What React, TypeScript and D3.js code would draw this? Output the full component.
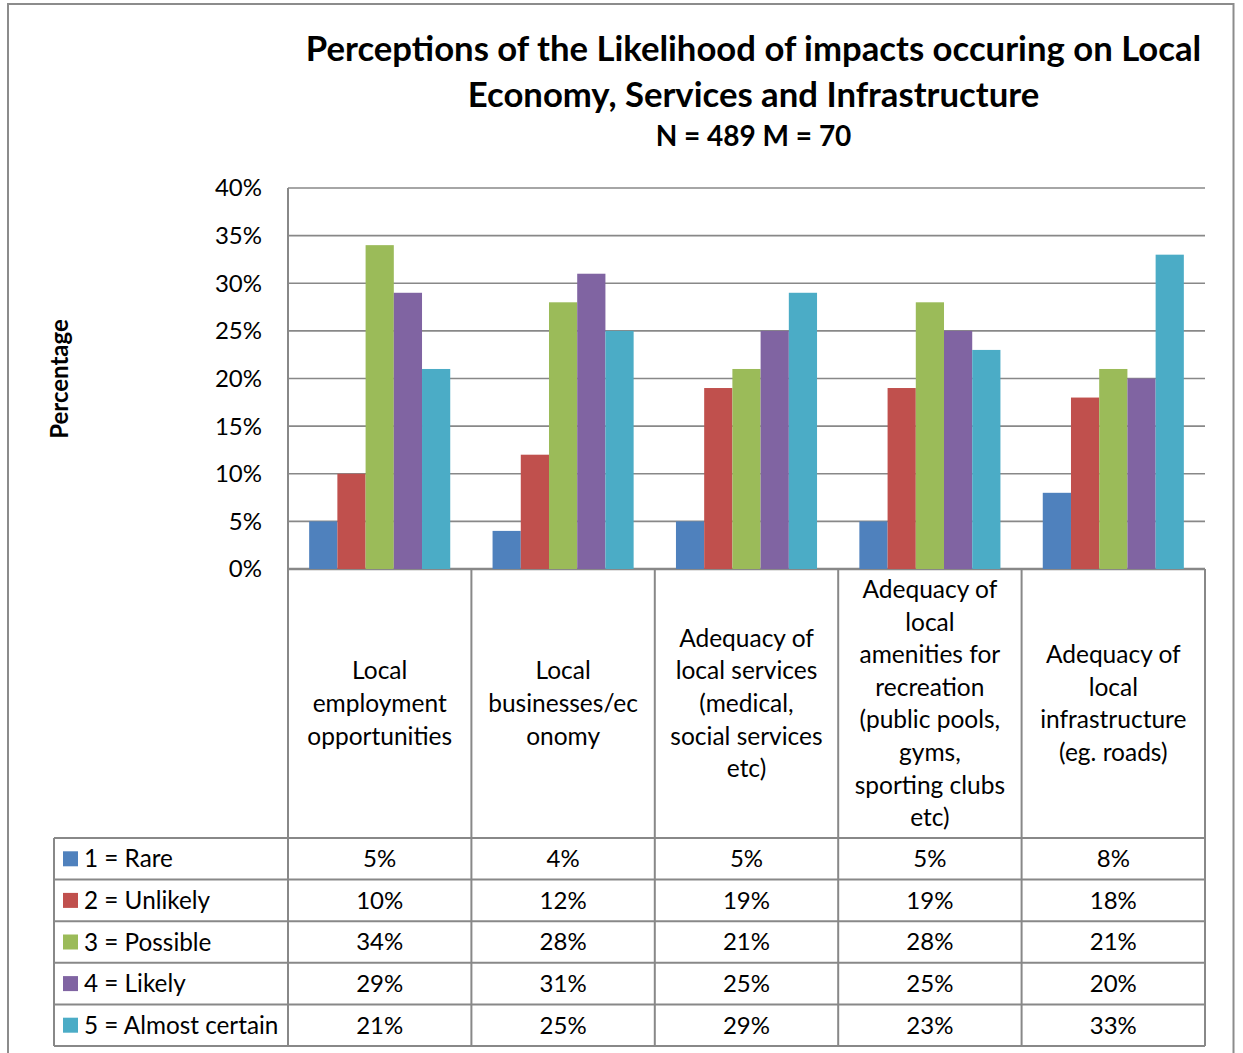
import React from "react";
import * as d3 from "d3";

const categories: string[][] = [
  ["Local", "employment", "opportunities"],
  ["Local", "businesses/ec", "onomy"],
  ["Adequacy of", "local services", "(medical,", "social services", "etc)"],
  ["Adequacy of", "local", "amenities for", "recreation", "(public pools,", "gyms,", "sporting clubs", "etc)"],
  ["Adequacy of", "local", "infrastructure", "(eg. roads)"],
];
const seriesNames = ["1 = Rare", "2 = Unlikely", "3 = Possible", "4 = Likely", "5 = Almost certain"];
const rare = [5, 4, 5, 5, 8];
const unlikely = [10, 12, 19, 19, 18];
const possible = [34, 28, 21, 28, 21];
const likely = [29, 31, 25, 25, 20];
const almostCertain = [21, 25, 29, 23, 33];
const seriesValues = [rare, unlikely, possible, likely, almostCertain];
const colors = ["#4F81BD", "#C0504D", "#9BBB59", "#8064A2", "#4BACC6"];
const yTicks = [0, 5, 10, 15, 20, 25, 30, 35, 40];

const FONT = "Lato, 'Open Sans', sans-serif";

export default function App() {
  const W = 1243, H = 1053;
  const left = 288, right = 1205, top = 188, bottom = 569;
  const tableLeft = 54;
  const headerBottom = 838;
  const rowH = 41.6;
  const x0 = d3.scaleBand<number>().domain(d3.range(categories.length)).range([left, right]).paddingInner(0).paddingOuter(0);
  const x1 = d3.scaleBand<number>().domain(d3.range(seriesNames.length)).range([0, x0.bandwidth()]).paddingInner(0).paddingOuter(0.75);
  const y = d3.scaleLinear().domain([0, 40]).range([bottom, top]);
  const grid = "#888888";
  const lineH = 32.6;
  const headerMid = (bottom + headerBottom) / 2;

  return (
    <svg width={W} height={H} style={{ position: "absolute", left: 0, top: 0, background: "#fff" }} fontFamily={FONT}>
      <rect x={0} y={0} width={W} height={H} fill="#fff" />
      <rect x={8} y={4} width={1225.5} height={1100} fill="none" stroke="#8c8c8c" strokeWidth={2} />
      <text x={753.5} y={61} textAnchor="middle" fontSize={34.7} fontWeight="bold" fill="#000">
        Perceptions of the Likelihood of impacts occuring on Local
      </text>
      <text x={753.5} y={107} textAnchor="middle" fontSize={34.7} fontWeight="bold" fill="#000">
        Economy, Services and Infrastructure
      </text>
      <text x={753.5} y={146} textAnchor="middle" fontSize={28} fontWeight="bold" fill="#000">
        N = 489 M = 70
      </text>
      <text transform={`translate(68,379) rotate(-90)`} textAnchor="middle" fontSize={24} fontWeight="bold" fill="#000">
        Percentage
      </text>
      {yTicks.map((t) => (
        <g key={t}>
          <line x1={left} x2={right} y1={y(t)} y2={y(t)} stroke={grid} strokeWidth={t === 0 ? 2.5 : 1.6} />
          <text x={262} y={y(t)} dy="0.35em" textAnchor="end" fontSize={24} fill="#000">{t}%</text>
        </g>
      ))}
      {seriesValues.map((vals, s) =>
        vals.map((v, c) => (
          <rect key={`${s}-${c}`} x={(x0(c) as number) + (x1(s) as number)} y={y(v)} width={x1.bandwidth()} height={y(0) - y(v)} fill={colors[s]} />
        ))
      )}
      <line x1={left} x2={left} y1={top} y2={headerBottom + rowH * 5} stroke={grid} strokeWidth={2} />
      {d3.range(categories.length + 1).map((i) => {
        const xx = i < categories.length ? (x0(i) as number) : right;
        return <line key={i} x1={xx} x2={xx} y1={bottom} y2={headerBottom + rowH * 5} stroke={grid} strokeWidth={2} />;
      })}
      <line x1={tableLeft} x2={tableLeft} y1={headerBottom} y2={headerBottom + rowH * 5} stroke={grid} strokeWidth={2} />
      {d3.range(6).map((r) => (
        <line key={r} x1={tableLeft} x2={right} y1={headerBottom + r * rowH} y2={headerBottom + r * rowH} stroke={grid} strokeWidth={2} />
      ))}
      {categories.map((lines, c) => {
        const cx = (x0(c) as number) + x0.bandwidth() / 2;
        const start = headerMid - ((lines.length - 1) * lineH) / 2;
        return (
          <text key={c} textAnchor="middle" fontSize={24.5} fill="#000">
            {lines.map((l, i) => (
              <tspan key={i} x={cx} y={start + i * lineH} dy="0.35em">{l}</tspan>
            ))}
          </text>
        );
      })}
      {seriesNames.map((name, s) => {
        const cy = headerBottom + s * rowH + rowH / 2;
        return (
          <g key={s}>
            <rect x={63} y={cy - 7.5} width={15} height={15} fill={colors[s]} />
            <text x={84} y={cy} dy="0.35em" fontSize={24.3} fill="#000">{name}</text>
            {seriesValues[s].map((v, c) => (
              <text key={c} x={(x0(c) as number) + x0.bandwidth() / 2} y={cy} dy="0.35em" textAnchor="middle" fontSize={24} fill="#000">
                {v}%
              </text>
            ))}
          </g>
        );
      })}
    </svg>
  );
}
